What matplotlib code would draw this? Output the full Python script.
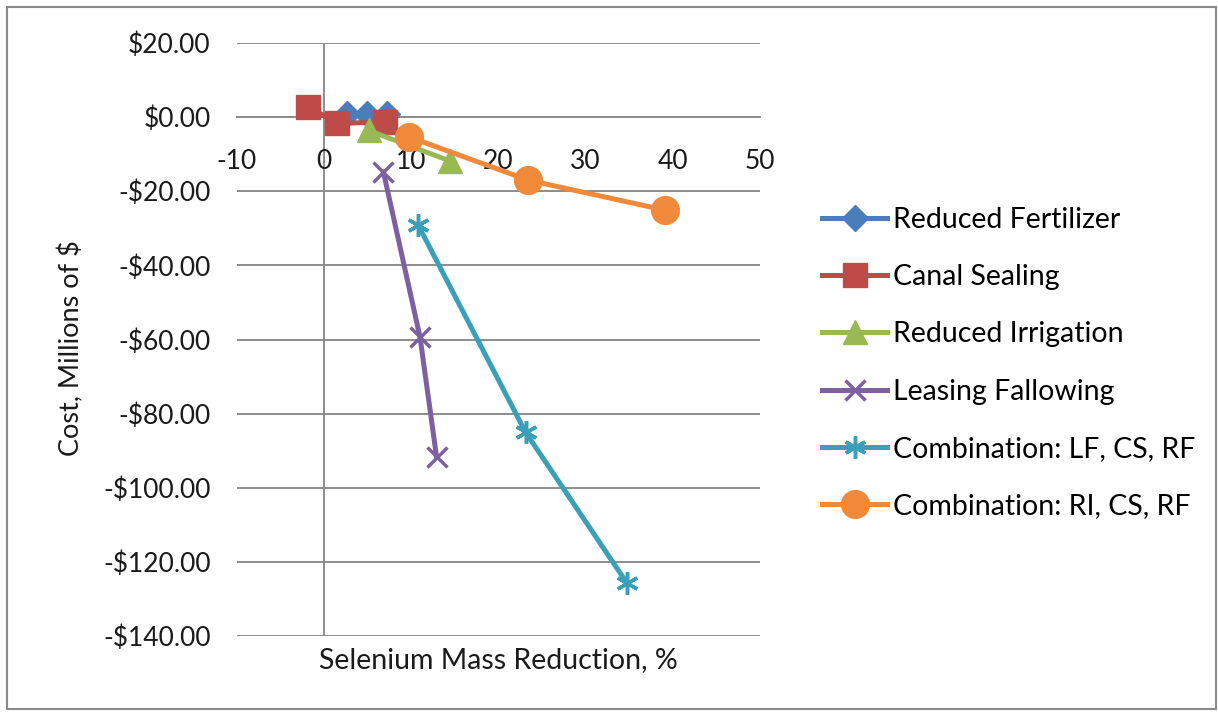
import matplotlib.pyplot as plt
from matplotlib.patches import Rectangle
from matplotlib.ticker import FuncFormatter

plt.rcParams['font.family'] = ['Lato', 'DejaVu Sans']
plt.rcParams['axes.unicode_minus'] = False

# selenium mass reduction (%) vs cost (millions of $) for each option
series_names = ['Reduced Fertilizer', 'Canal Sealing', 'Reduced Irrigation',
                'Leasing Fallowing', 'Combination: LF, CS, RF',
                'Combination: RI, CS, RF']
rf_x = [2.6, 4.9, 7.2]
rf_y = [0.8, 0.9, 0.9]
cs_x = [-1.8, 1.5, 7.0]
cs_y = [2.8, -1.7, -1.3]
ri_x = [5.1, 14.4]
ri_y = [-3.6, -11.8]
lf_x = [6.8, 11.0, 12.9]
lf_y = [-14.8, -59.4, -91.8]
lfcsrf_x = [10.8, 23.1, 34.7]
lfcsrf_y = [-29.2, -85.0, -125.6]
ricsrf_x = [9.7, 23.4, 39.1]
ricsrf_y = [-5.3, -17.0, -25.1]

x_ticks = [-10, 0, 10, 20, 30, 40, 50]
y_ticks = [20, 0, -20, -40, -60, -80, -100, -120, -140]

grid_col = '#8c8c8c'
text_col = '#1a1a1a'

fig = plt.figure(figsize=(12.18, 7.13), dpi=100)
ax = fig.add_axes([237/1218, 1 - 636/713, 523/1218, 593/713])

ax.set_xlim(-10, 50)
ax.set_ylim(-140, 20)

for yv in y_ticks:
    ax.axhline(yv, color=grid_col, lw=1.4, zorder=1)
ax.axvline(0, color=grid_col, lw=1.4, zorder=1)

styles = [
    dict(color='#4a7ebb', marker='D', ms=13),
    dict(color='#be4b48', marker='s', ms=17),
    dict(color='#98b954', marker='^', ms=17),
    dict(color='#7d60a0', marker='x', ms=15, mew=2.5),
    dict(color='#3a9fb9', marker=(6, 2, 0), ms=16, mew=2.5),
    dict(color='#f0893a', marker='o', ms=20),
]
data = [(rf_x, rf_y), (cs_x, cs_y), (ri_x, ri_y), (lf_x, lf_y),
        (lfcsrf_x, lfcsrf_y), (ricsrf_x, ricsrf_y)]

handles = []
for name, (xs, ys), st in zip(series_names, data, styles):
    h, = ax.plot(xs, ys, lw=3.6, label=name, zorder=3, clip_on=False, **st)
    handles.append(h)

# axes in the Excel style: x labels under the zero line, y labels at the left edge
for side in ['top', 'right', 'left']:
    ax.spines[side].set_visible(False)
ax.spines['bottom'].set_position(('data', 0))
ax.spines['bottom'].set_color(grid_col)
ax.spines['bottom'].set_linewidth(1.4)

ax.set_xticks(x_ticks)
ax.set_yticks(y_ticks)
ax.yaxis.set_major_formatter(FuncFormatter(
    lambda v, p: ('-$%.2f' % abs(v)) if v < 0 else ('$%.2f' % v)))
ax.tick_params(axis='x', length=0, pad=23, labelsize=19, colors=text_col)
ax.tick_params(axis='y', length=0, pad=19, labelsize=19, colors=text_col)

ax.set_xlabel('Selenium Mass Reduction, %', fontsize=20.5, color=text_col)
ax.xaxis.set_label_coords(0.5, -0.018)
ax.set_ylabel('Cost, Millions of $', fontsize=19.5, color=text_col)
ax.yaxis.set_label_coords(-0.292, 0.485)

fig.legend(handles=handles, loc='center left',
           bbox_to_anchor=(822/1218, 1 - 363/713), frameon=False,
           fontsize=20.5, handlelength=2.3, handletextpad=0.18,
           labelspacing=1.1, borderpad=0, borderaxespad=0)

fig.patches.append(Rectangle((7/1218, 1 - 709/713), 1209/1218, 702/713,
                             transform=fig.transFigure, fill=False,
                             edgecolor='#8a8a8a', lw=1.5))

fig.savefig('out.png', dpi=100)
